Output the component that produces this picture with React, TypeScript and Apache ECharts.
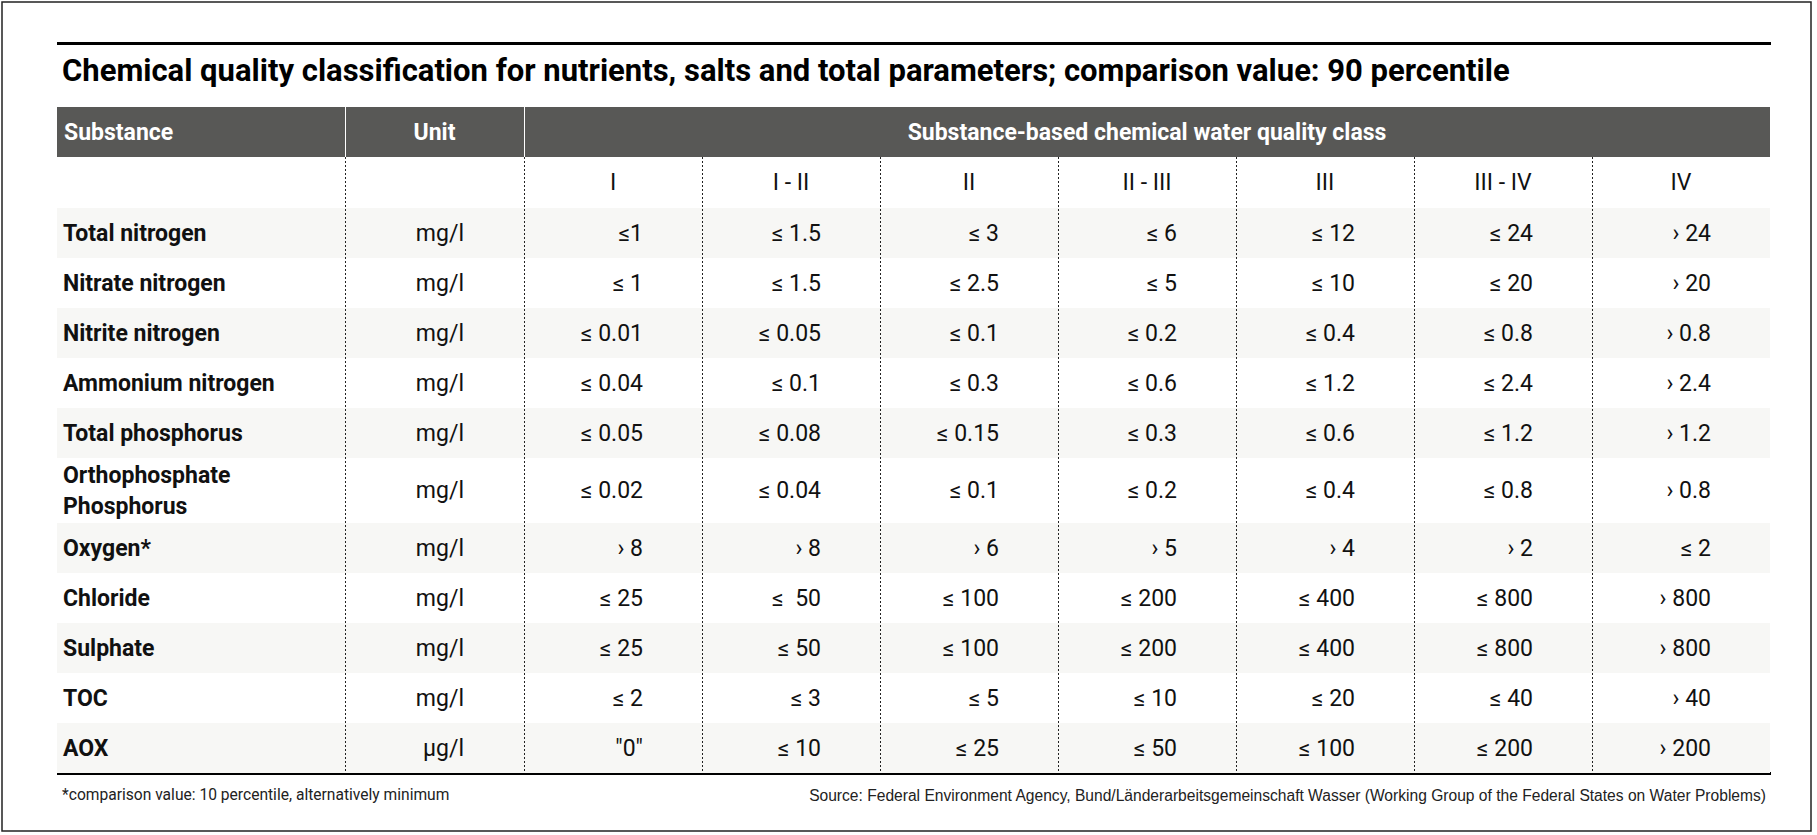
import React, { useEffect, useRef } from "react";
import * as echarts from "echarts";

// ---------- data ----------
const titleText =
  "Chemical quality classification for nutrients, salts and total parameters; comparison value: 90 percentile";
const headerSubstance = "Substance";
const headerUnit = "Unit";
const headerClass = "Substance-based chemical water quality class";
const classLabels = ["I", "I - II", "II", "II - III", "III", "III - IV", "IV"];
const substances = [
  "Total nitrogen",
  "Nitrate nitrogen",
  "Nitrite nitrogen",
  "Ammonium nitrogen",
  "Total phosphorus",
  "Orthophosphate\nPhosphorus",
  "Oxygen*",
  "Chloride",
  "Sulphate",
  "TOC",
  "AOX",
];
const units = ["mg/l", "mg/l", "mg/l", "mg/l", "mg/l", "mg/l", "mg/l", "mg/l", "mg/l", "mg/l", "µg/l"];
const classI = ["≤1", "≤ 1", "≤ 0.01", "≤ 0.04", "≤ 0.05", "≤ 0.02", "› 8", "≤ 25", "≤ 25", "≤ 2", "\"0\""];
const classI_II = ["≤ 1.5", "≤ 1.5", "≤ 0.05", "≤ 0.1", "≤ 0.08", "≤ 0.04", "› 8", "≤  50", "≤ 50", "≤ 3", "≤ 10"];
const classII = ["≤ 3", "≤ 2.5", "≤ 0.1", "≤ 0.3", "≤ 0.15", "≤ 0.1", "› 6", "≤ 100", "≤ 100", "≤ 5", "≤ 25"];
const classII_III = ["≤ 6", "≤ 5", "≤ 0.2", "≤ 0.6", "≤ 0.3", "≤ 0.2", "› 5", "≤ 200", "≤ 200", "≤ 10", "≤ 50"];
const classIII = ["≤ 12", "≤ 10", "≤ 0.4", "≤ 1.2", "≤ 0.6", "≤ 0.4", "› 4", "≤ 400", "≤ 400", "≤ 20", "≤ 100"];
const classIII_IV = ["≤ 24", "≤ 20", "≤ 0.8", "≤ 2.4", "≤ 1.2", "≤ 0.8", "› 2", "≤ 800", "≤ 800", "≤ 40", "≤ 200"];
const classIV = ["› 24", "› 20", "› 0.8", "› 2.4", "› 1.2", "› 0.8", "≤ 2", "› 800", "› 800", "› 40", "› 200"];
const classColumns = [classI, classI_II, classII, classII_III, classIII, classIII_IV, classIV];
const footnote = "*comparison value: 10 percentile, alternatively minimum";
const sourceText =
  "Source: Federal Environment Agency, Bund/Länderarbeitsgemeinschaft Wasser (Working Group of the Federal States on Water Problems)";

// ---------- layout ----------
const TABLE_LEFT = 57;
const TABLE_TOP = 107;
const colWidths = [288, 179, 178, 178, 178, 178, 178, 178, 178];
const headerRowH = 50;
const subHeaderRowH = 51;
const dataRowHeights = [50, 50, 50, 50, 50, 65, 50, 50, 50, 50, 50];
const rowHeights = [headerRowH, subHeaderRowH, ...dataRowHeights];

const colEdges: number[] = [0];
colWidths.forEach((w) => colEdges.push(colEdges[colEdges.length - 1] + w));
const rowEdges: number[] = [0];
rowHeights.forEach((h) => rowEdges.push(rowEdges[rowEdges.length - 1] + h));
const TABLE_W = colEdges[colEdges.length - 1];
const TABLE_H = rowEdges[rowEdges.length - 1];

const FONT = "Roboto, 'DejaVu Sans', sans-serif";
const HEADER_BG = "#585856";
const SHADE = "#f7f7f5";
const TEXT = "#111111";
const BODY_SIZE = 23;

type Cell = {
  kind: "fill" | "vline" | "text";
  x0: number;
  y0: number;
  x1: number;
  y1: number;
  color?: string;
  dash?: boolean;
  text?: string;
  align?: string;
  bold?: boolean;
  size?: number;
};

function buildCells(): Cell[] {
  const cells: Cell[] = [];
  dataRowHeights.forEach((_, i) => {
    if (i % 2 === 0) {
      cells.push({ kind: "fill", x0: 0, x1: TABLE_W, y0: rowEdges[2 + i], y1: rowEdges[3 + i], color: SHADE });
    }
  });
  cells.push({ kind: "fill", x0: 0, x1: TABLE_W, y0: rowEdges[0], y1: rowEdges[1], color: HEADER_BG });
  [1, 2].forEach((k) =>
    cells.push({ kind: "vline", x0: colEdges[k], x1: colEdges[k], y0: rowEdges[0], y1: rowEdges[1], color: "#ffffff" })
  );
  for (let k = 1; k < colEdges.length - 1; k++) {
    cells.push({
      kind: "vline",
      x0: colEdges[k],
      x1: colEdges[k],
      y0: rowEdges[1],
      y1: TABLE_H,
      color: "#222222",
      dash: true,
    });
  }
  const midRow = (r: number) => (rowEdges[r] + rowEdges[r + 1]) / 2;
  const midCol = (a: number, b: number) => (colEdges[a] + colEdges[b]) / 2;
  cells.push({ kind: "text", x0: 7, x1: 7, y0: midRow(0), y1: midRow(0), text: headerSubstance, align: "left", bold: true, color: "#ffffff", size: BODY_SIZE });
  cells.push({ kind: "text", x0: midCol(1, 2), x1: midCol(1, 2), y0: midRow(0), y1: midRow(0), text: headerUnit, align: "center", bold: true, color: "#ffffff", size: BODY_SIZE });
  cells.push({ kind: "text", x0: midCol(2, 9), x1: midCol(2, 9), y0: midRow(0), y1: midRow(0), text: headerClass, align: "center", bold: true, color: "#ffffff", size: BODY_SIZE });
  classLabels.forEach((lab, j) => {
    const cx = midCol(2 + j, 3 + j);
    cells.push({ kind: "text", x0: cx, x1: cx, y0: midRow(1), y1: midRow(1), text: lab, align: "center", color: TEXT, size: BODY_SIZE });
  });
  substances.forEach((name, i) => {
    const r = 2 + i;
    const cy = midRow(r);
    cells.push({ kind: "text", x0: 6, x1: 6, y0: cy, y1: cy, text: name, align: "left", bold: true, color: TEXT, size: BODY_SIZE });
    const ux = colEdges[2] - 60;
    cells.push({ kind: "text", x0: ux, x1: ux, y0: cy, y1: cy, text: units[i], align: "right", color: TEXT, size: BODY_SIZE });
    classColumns.forEach((col, j) => {
      const vx = colEdges[3 + j] - 59;
      cells.push({ kind: "text", x0: vx, x1: vx, y0: cy, y1: cy, text: col[i], align: "right", color: TEXT, size: BODY_SIZE });
    });
  });
  return cells;
}

export default function App() {
  const ref = useRef<HTMLDivElement>(null);
  useEffect(() => {
    if (!ref.current) return;
    const chart = echarts.init(ref.current, null, { renderer: "svg" });
    const cells = buildCells();
    const option: any = {
      animation: false,
      backgroundColor: "#ffffff",
      grid: { left: TABLE_LEFT, top: TABLE_TOP, width: TABLE_W, height: TABLE_H, containLabel: false },
      xAxis: { type: "value", min: 0, max: TABLE_W, show: false },
      yAxis: { type: "value", min: 0, max: TABLE_H, inverse: true, show: false },
      series: [
        {
          type: "custom",
          silent: true,
          clip: false,
          encode: { x: [0, 2], y: [1, 3] },
          data: cells.map((c) => [c.x0, c.y0, c.x1, c.y1]),
          renderItem: (params: any, api: any) => {
            const c = cells[params.dataIndex];
            const p0 = api.coord([api.value(0), api.value(1)]);
            const p1 = api.coord([api.value(2), api.value(3)]);
            if (c.kind === "fill") {
              return {
                type: "rect",
                shape: { x: p0[0], y: p0[1], width: p1[0] - p0[0], height: p1[1] - p0[1] },
                style: { fill: c.color },
              };
            }
            if (c.kind === "vline") {
              const x = Math.round(p0[0]) + 0.5;
              return {
                type: "line",
                shape: { x1: x, y1: p0[1], x2: x, y2: p1[1] },
                style: { stroke: c.color, lineWidth: 1, lineDash: c.dash ? [2, 2] : null },
              };
            }
            return {
              type: "text",
              x: p0[0],
              y: p0[1],
              style: {
                text: c.text,
                fill: c.color,
                fontSize: c.size,
                fontFamily: FONT,
                fontWeight: c.bold ? "bold" : "normal",
                align: c.align,
                verticalAlign: "middle",
                lineHeight: 31,
              },
            };
          },
        },
      ],
      graphic: [
        {
          type: "rect",
          shape: { x: 2, y: 2, width: 1809, height: 829 },
          style: { fill: "none", stroke: "#222222", lineWidth: 1.5 },
          silent: true,
        },
        {
          type: "rect",
          shape: { x: TABLE_LEFT, y: 42, width: TABLE_W + 1, height: 3 },
          style: { fill: "#000000" },
          silent: true,
        },
        {
          type: "rect",
          shape: { x: TABLE_LEFT, y: TABLE_TOP + TABLE_H - 1, width: TABLE_W + 1, height: 3 },
          style: { fill: "#000000" },
          silent: true,
        },
        {
          type: "text",
          x: 62,
          y: 70,
          style: {
            text: titleText,
            fill: "#000000",
            fontSize: 31,
            fontWeight: "bold",
            fontFamily: FONT,
            align: "left",
            verticalAlign: "middle",
          },
          silent: true,
        },
        {
          type: "text",
          x: 62,
          y: 795,
          style: {
            text: footnote,
            fill: "#222222",
            fontSize: 15.6,
            fontFamily: FONT,
            align: "left",
            verticalAlign: "middle",
          },
          silent: true,
        },
        {
          type: "text",
          x: 1766,
          y: 795,
          style: {
            text: sourceText,
            fill: "#222222",
            fontSize: 15.6,
            fontFamily: "'Liberation Sans', Arial, sans-serif",
            align: "right",
            verticalAlign: "middle",
          },
          silent: true,
        },
      ],
    };
    chart.setOption(option);
    return () => chart.dispose();
  }, []);
  return (
    <div
      ref={ref}
      style={{ position: "fixed", left: 0, top: 0, width: 1817, height: 835, background: "#ffffff" }}
    />
  );
}
